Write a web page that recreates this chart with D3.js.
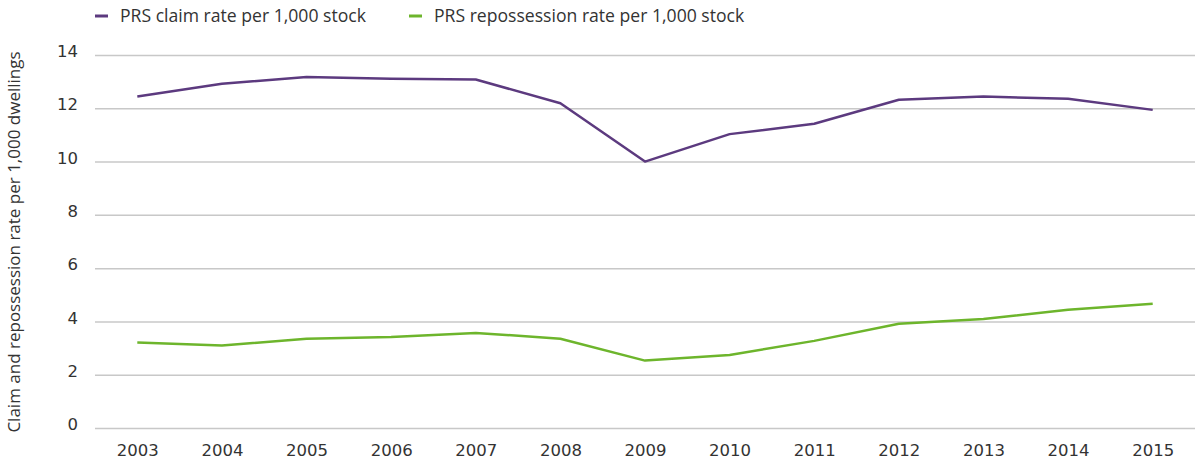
<!DOCTYPE html>
<meta charset="utf-8">
<script src="https://cdn.jsdelivr.net/npm/d3@7"></script>
<style>
    body { margin: 0; background: #fff; }
    .grid line { stroke: #c8c8c8; stroke-width: 1.5; }
    .tick text { font-family: "DejaVu Sans", Verdana, sans-serif; font-size: 16.5px; fill: #333; }
    .legend text { font-family: "Open Sans", Lato, sans-serif; font-size: 17.6px; fill: #333; }
    .ylabel { font-family: "Open Sans", Lato, sans-serif; font-size: 17px; fill: #333; }
</style>
<body>
<script>
    // chart data
    const years = ["2003", "2004", "2005", "2006", "2007", "2008", "2009", "2010", "2011", "2012", "2013", "2014", "2015"];
    const claimRate = [12.44, 12.92, 13.17, 13.11, 13.08, 12.19, 10.0, 11.03, 11.42, 12.32, 12.44, 12.36, 11.94];
    const repoRate = [3.21, 3.10, 3.35, 3.42, 3.57, 3.35, 2.53, 2.74, 3.27, 3.91, 4.09, 4.44, 4.66];
    const yTicks = [0, 2, 4, 6, 8, 10, 12, 14];
    const seriesNames = ["PRS claim rate per 1,000 stock", "PRS repossession rate per 1,000 stock"];
    const seriesColors = ["#5c3a7f", "#6db52c"];

    const width = 1195, height = 464;
    const margin = {left: 95, right: 1195, top: 55, bottom: 428};

    const svg = d3.select("body").append("svg")
        .attr("width", width)
        .attr("height", height);

    const x = d3.scalePoint().domain(years).range([margin.left, margin.right]).padding(0.5);
    const y = d3.scaleLinear().domain([0, 14]).range([margin.bottom, margin.top]);

    // horizontal grid + y labels
    const yAxis = svg.append("g")
        .attr("class", "grid")
        .attr("transform", "translate(" + margin.left + ",0)")
        .call(d3.axisLeft(y).tickValues(yTicks).tickSize(-(margin.right - margin.left)).tickPadding(17));
    yAxis.select(".domain").remove();
    yAxis.selectAll(".tick text").attr("dy", "0.1em");

    // x labels
    const xAxis = svg.append("g")
        .attr("transform", "translate(0," + margin.bottom + ")")
        .call(d3.axisBottom(x).tickSize(0).tickPadding(16));
    xAxis.select(".domain").remove();

    svg.append("text")
        .attr("class", "ylabel")
        .attr("transform", "translate(20,242) rotate(-90)")
        .attr("text-anchor", "middle")
        .text("Claim and repossession rate per 1,000 dwellings");

    const line = d3.line()
        .x((d, i) => x(years[i]))
        .y(d => y(d));

    [claimRate, repoRate].forEach(function (vals, k) {
        svg.append("path")
            .datum(vals)
            .attr("fill", "none")
            .attr("stroke", seriesColors[k])
            .attr("stroke-width", 2.5)
            .attr("stroke-linejoin", "round")
            .attr("d", line);
    });

    // legend
    const legendX = [95, 409];
    const legend = svg.append("g").attr("class", "legend");
    seriesNames.forEach(function (name, k) {
        const g = legend.append("g").attr("transform", "translate(" + legendX[k] + ",16)");
        g.append("line")
            .attr("x1", 0).attr("x2", 13)
            .attr("stroke", seriesColors[k])
            .attr("stroke-width", 3);
        g.append("text")
            .attr("x", 25)
            .attr("dy", "0.35em")
            .text(name);
    });
</script>
</body>
